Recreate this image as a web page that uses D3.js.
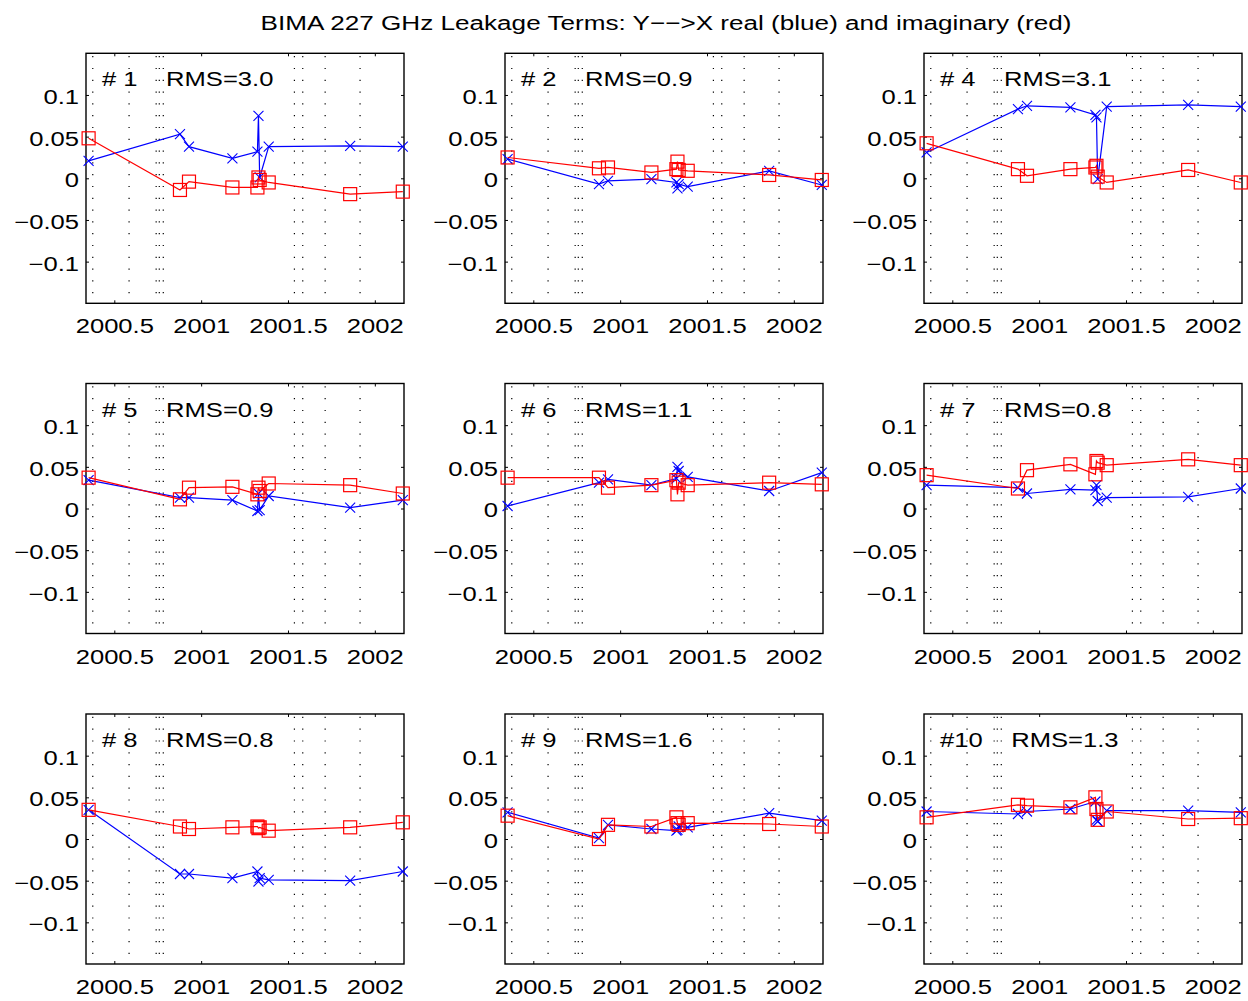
<!DOCTYPE html>
<html>
<head>
<meta charset="utf-8">
<script src="https://cdn.jsdelivr.net/npm/d3@7"></script>
<style>
  body { margin: 0; background: #fff; }
  svg { display: block; font-family: "Liberation Sans", Arial, Helvetica, sans-serif; }
  text { white-space: pre; }
</style>
</head>
<body>
<div id="content"></div>
<script>
// observation epochs (decimal year), shared by all antennas
var epochs = [2000.352, 2000.878, 2000.930, 2001.180, 2001.324, 2001.330, 2001.337, 2001.389, 2001.858, 2002.161];

// array configuration changes (dotted lines)
var configDates = [2000.376, 2000.585, 2000.741, 2000.759, 2000.782, 2001.537, 2001.585, 2001.714, 2001.915];

var antennas = [1, 2, 4, 5, 6, 7, 8, 9, 10];
var rmsValues = [3.0, 0.9, 3.1, 0.9, 1.1, 0.8, 0.8, 1.6, 1.3];

// leakage real part (blue)
var real1  = [0.021, 0.053, 0.038, 0.024, 0.032, 0.075, 0.001, 0.038, 0.039, 0.038];
var real2  = [0.023, -0.007, -0.003, -0.001, -0.005, -0.012, -0.007, -0.010, 0.009, -0.008];
var real4  = [0.031, 0.083, 0.087, 0.085, 0.076, 0.073, -0.001, 0.086, 0.088, 0.086];
var real5  = [0.034, 0.013, 0.013, 0.010, -0.003, 0.018, -0.002, 0.015, 0.001, 0.010];
var real6  = [0.003, 0.031, 0.035, 0.028, 0.036, 0.050, 0.045, 0.038, 0.021, 0.043];
var real7  = [0.028, 0.025, 0.018, 0.023, 0.022, 0.028, 0.009, 0.013, 0.014, 0.024];
var real8  = [0.035, -0.042, -0.042, -0.047, -0.039, -0.051, -0.047, -0.049, -0.050, -0.039];
var real9  = [0.032, 0.001, 0.017, 0.012, 0.010, 0.011, 0.015, 0.014, 0.031, 0.022];
var real10 = [0.033, 0.030, 0.033, 0.036, 0.045, 0.023, 0.021, 0.034, 0.034, 0.032];

// leakage imaginary part (red)
var imag1  = [0.048, -0.014, -0.004, -0.011, -0.011, 0.001, -0.002, -0.005, -0.019, -0.016];
var imag2  = [0.025, 0.012, 0.013, 0.007, 0.011, 0.020, 0.010, 0.009, 0.004, -0.002];
var imag4  = [0.042, 0.011, 0.003, 0.011, 0.013, 0.015, 0.002, -0.005, 0.010, -0.005];
var imag5  = [0.037, 0.011, 0.025, 0.026, 0.017, 0.025, 0.021, 0.030, 0.028, 0.018];
var imag6  = [0.037, 0.037, 0.025, 0.028, 0.034, 0.017, 0.031, 0.028, 0.031, 0.029];
var imag7  = [0.040, 0.024, 0.046, 0.053, 0.041, 0.057, 0.055, 0.052, 0.059, 0.052];
var imag8  = [0.035, 0.015, 0.012, 0.014, 0.015, 0.013, 0.014, 0.010, 0.014, 0.020];
var imag9  = [0.028, 0.000, 0.017, 0.015, 0.026, 0.019, 0.017, 0.019, 0.018, 0.015];
var imag10 = [0.026, 0.041, 0.040, 0.038, 0.050, 0.036, 0.023, 0.033, 0.024, 0.025];

var realSeries = [real1, real2, real4, real5, real6, real7, real8, real9, real10];
var imagSeries = [imag1, imag2, imag4, imag5, imag6, imag7, imag8, imag9, imag10];

var xTicks = [2000.5, 2001, 2001.5, 2002];
var yTicks = [-0.1, -0.05, 0, 0.05, 0.1];

var width = 1248, height = 1001,
    colLeft = [86, 505, 924],
    rowTop = [53.3, 383.5, 714],
    pw = 318, ph = 250,
    stretch = 1.28,   // the figure text is horizontally stretched
    fontSize = 20;

var svg = d3.select('#content').append('svg')
    .attr('width', width)
    .attr('height', height);

var xScale = d3.scaleLinear().domain([2000.337, 2002.168]).range([0, pw]),
    yScale = d3.scaleLinear().domain([-0.15, 0.15]).range([ph, 0]);

function fmt(d) { return String(d).replace('-', '\u2212'); }

svg.append('text')
    .attr('transform', 'translate(666,30) scale(' + stretch + ',1)')
    .attr('text-anchor', 'middle')
    .attr('font-size', 20.4)
    .text('BIMA 227 GHz Leakage Terms: Y\u2212\u2212>X real (blue) and imaginary (red)');

antennas.forEach(function(ant, i) {
    var g = svg.append('g')
        .attr('transform', 'translate(' + colLeft[i % 3] + ',' + rowTop[Math.floor(i / 3)] + ')');

    // dotted configuration lines
    g.selectAll('line.cfg')
        .data(configDates)
        .enter().append('line')
        .attr('class', 'cfg')
        .attr('x1', function(d){ return xScale(d); })
        .attr('x2', function(d){ return xScale(d); })
        .attr('y1', 0).attr('y2', ph)
        .attr('stroke', '#000')
        .attr('stroke-width', 1.2)
        .attr('stroke-dasharray', '1.2,10.6')
        .attr('stroke-dashoffset', -2.8);

    // axes, ticks inside
    var bottom = g.append('g').attr('transform', 'translate(0,' + ph + ')')
        .call(d3.axisBottom(xScale).tickValues(xTicks).tickSizeInner(-3).tickSizeOuter(0).tickPadding(16).tickFormat(fmt));
    g.append('g')
        .call(d3.axisTop(xScale).tickValues(xTicks).tickSizeInner(-3).tickSizeOuter(0).tickFormat(''));
    var left = g.append('g')
        .call(d3.axisLeft(yScale).tickValues(yTicks).tickSizeInner(-3).tickSizeOuter(0).tickPadding(0).tickFormat(fmt));
    g.append('g').attr('transform', 'translate(' + pw + ',0)')
        .call(d3.axisRight(yScale).tickValues(yTicks).tickSizeInner(-3).tickSizeOuter(0).tickFormat(''));

    g.selectAll('.domain').remove();
    g.selectAll('.tick line').attr('stroke', '#000');
    bottom.selectAll('text')
        .attr('font-size', fontSize).attr('font-family', null).attr('fill', '#000')
        .attr('transform', 'scale(' + stretch + ',1)');
    left.selectAll('text')
        .attr('font-size', fontSize).attr('font-family', null).attr('fill', '#000')
        .attr('x', -7 / stretch).attr('dy', '0.42em')
        .attr('transform', 'scale(' + stretch + ',1)');

    g.append('rect')
        .attr('width', pw).attr('height', ph)
        .attr('fill', 'none').attr('stroke', '#000').attr('stroke-width', 1.4);

    var re = epochs.map(function(t, k){ return [t, realSeries[i][k]]; }),
        im = epochs.map(function(t, k){ return [t, imagSeries[i][k]]; });

    var line = d3.line()
        .x(function(d){ return xScale(d[0]); })
        .y(function(d){ return yScale(d[1]); });

    g.append('path').datum(re)
        .attr('d', line).attr('fill', 'none').attr('stroke', '#0000ff').attr('stroke-width', 1.2);
    g.selectAll('path.xm')
        .data(re).enter().append('path')
        .attr('class', 'xm')
        .attr('transform', function(d){ return 'translate(' + xScale(d[0]) + ',' + yScale(d[1]) + ')'; })
        .attr('d', 'M-5,-5L5,5M-5,5L5,-5')
        .attr('stroke', '#0000ff').attr('stroke-width', 1.1).attr('fill', 'none');

    g.append('path').datum(im)
        .attr('d', line).attr('fill', 'none').attr('stroke', '#ff0000').attr('stroke-width', 1.2);
    g.selectAll('rect.sq')
        .data(im).enter().append('rect')
        .attr('class', 'sq')
        .attr('x', function(d){ return xScale(d[0]) - 6.5; })
        .attr('y', function(d){ return yScale(d[1]) - 6.5; })
        .attr('width', 13).attr('height', 13)
        .attr('fill', 'none').attr('stroke', '#ff0000').attr('stroke-width', 1.2);

    var label = '#' + (ant < 10 ? ' ' + ant : ant) + '    RMS=' + rmsValues[i].toFixed(1);
    g.append('text')
        .attr('transform', 'translate(16,33) scale(' + stretch + ',1)')
        .attr('font-size', fontSize)
        .text(label);
});
</script>
</body>
</html>
